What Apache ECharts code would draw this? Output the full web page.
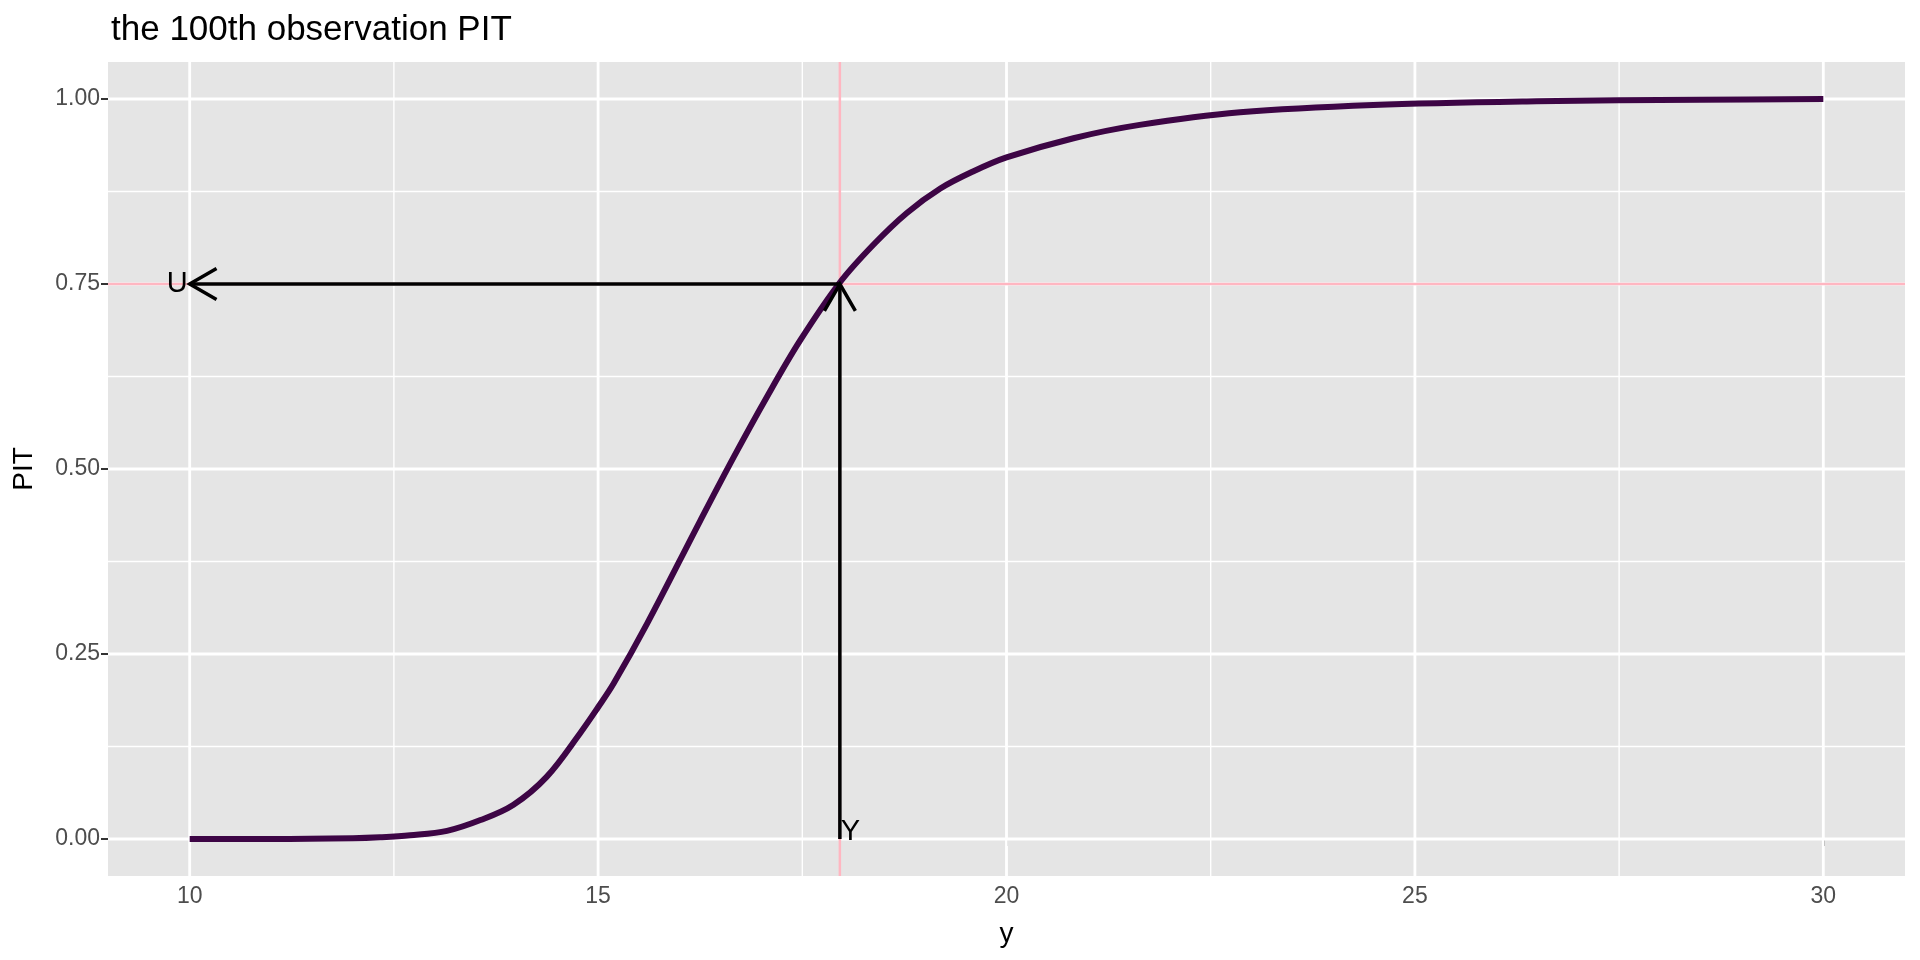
<!DOCTYPE html>
<html><head><meta charset="utf-8">
<script src="https://cdn.jsdelivr.net/npm/echarts@6/dist/echarts.min.js"></script>
<style>html,body{margin:0;padding:0;background:#fff}#c{width:1920px;height:960px}</style>
</head><body><div id="c"></div>
<script>
// ---- data ----
const yValues = [10, 11, 12, 12.33, 12.7, 13.15, 13.56, 13.96, 14.37, 14.78, 15.0, 15.19, 15.6, 16.25, 16.66, 17.07, 17.47, 17.96, 18.37, 18.78, 19.19, 19.59, 20.0, 20.82, 21.63, 22.86, 24.49, 26.49, 28.49, 30];
const pitValues = [0.000, 0.000, 0.001, 0.0023, 0.005, 0.011, 0.0256, 0.046, 0.084, 0.143, 0.178, 0.210, 0.291, 0.430, 0.516, 0.598, 0.673, 0.752, 0.803, 0.846, 0.879, 0.902, 0.921, 0.947, 0.965, 0.982, 0.992, 0.997, 0.999, 1.000];
const xTicks = [10, 15, 20, 25, 30];
const xMinor = [12.5, 17.5, 22.5, 27.5];
const yTicks = [0, 0.25, 0.5, 0.75, 1];
const yMinor = [0.125, 0.375, 0.625, 0.875];
const obsY = 17.96;
const obsPIT = 0.75;
const arrowFrom = [[obsY, 0], [obsY, obsPIT]];
const arrowTo = [[obsY, obsPIT], [10, obsPIT]];
const labelText = ['U', 'Y'];
const labelPos = [[10, obsPIT], [obsY, 0]];

const chart = echarts.init(document.getElementById('c'));
const FONT = '"Liberation Sans", Arial, Helvetica, sans-serif';

function lineSeries(name, data, styleFn, z) {
  return {
    type: 'custom', name, z, silent: true,
    data,
    renderItem(params, api) {
      const cs = params.coordSys;
      const kind = api.value(1);
      const v = api.value(0);
      const st = styleFn(api.value(2));
      if (kind === 0) {
        const x = api.coord([v, 0])[0];
        return {type: 'line', shape: {x1: x, y1: cs.y, x2: x, y2: cs.y + cs.height}, style: st};
      } else {
        const y = api.coord([10, v])[1];
        return {type: 'line', shape: {x1: cs.x, y1: y, x2: cs.x + cs.width, y2: y}, style: st};
      }
    },
    encode: {x: 0}
  };
}

const gridData = [
  ...xMinor.map(v => [v, 0, 1]), ...yMinor.map(v => [v, 1, 1]),
  ...xTicks.map(v => [v, 0, 0]), ...yTicks.map(v => [v, 1, 0])
];
const refData = [[obsY, 0, 0], [obsPIT, 1, 0]];

const option = {
  animation: false,
  backgroundColor: '#ffffff',
  title: {
    text: 'the 100th observation PIT', left: 106, top: 8,
    textStyle: {fontFamily: FONT, fontSize: 35, fontWeight: 'normal', color: '#000'}
  },
  grid: {left: 108, right: 15, top: 62, bottom: 84, show: true, backgroundColor: '#E5E5E5', borderWidth: 0},
  xAxis: {
    type: 'value', min: 9, max: 31,
    name: 'y', nameLocation: 'middle', nameGap: 44,
    nameTextStyle: {fontFamily: FONT, fontSize: 28, color: '#000'},
    axisLine: {show: false},
    axisTick: {show: true, customValues: xTicks, length: 7, lineStyle: {color: '#333333', width: 2}},
    axisLabel: {customValues: xTicks, fontFamily: FONT, fontSize: 23, color: '#4D4D4D', margin: 9},
    splitLine: {show: false}
  },
  yAxis: {
    type: 'value', min: -0.05, max: 1.05,
    name: 'PIT', nameLocation: 'middle', nameGap: 70, nameRotate: 90,
    nameTextStyle: {fontFamily: FONT, fontSize: 28, color: '#000'},
    axisLine: {show: false},
    axisTick: {show: true, customValues: yTicks, length: 7, lineStyle: {color: '#333333', width: 2}},
    axisLabel: {customValues: yTicks, fontFamily: FONT, fontSize: 23, color: '#4D4D4D', margin: 8,
      formatter: v => v.toFixed(2)},
    splitLine: {show: false}
  },
  series: [
    lineSeries('grid', gridData, w => ({stroke: '#FFFFFF', lineWidth: w === 1 ? 1.4 : 2.8}), 1),
    lineSeries('ref', refData, () => ({stroke: '#FFB6C1', lineWidth: 2.5}), 2),
    {
      type: 'line', name: 'PIT', z: 3, silent: true,
      data: yValues.map((x, i) => [x, pitValues[i]]),
      showSymbol: false, smooth: 0.35,
      lineStyle: {color: '#3D0545', width: 6, cap: 'butt'}
    },
    {
      type: 'custom', name: 'arrows', z: 4, silent: true,
      data: arrowFrom.map((f, i) => [f[0], f[1], arrowTo[i][0], arrowTo[i][1]]),
      encode: {x: [0, 2], y: [1, 3]},
      renderItem(params, api) {
        const p1 = api.coord([api.value(0), api.value(1)]);
        const p2 = api.coord([api.value(2), api.value(3)]);
        const a = Math.atan2(p2[1] - p1[1], p2[0] - p1[0]);
        const L = 31, t = Math.PI / 6;
        const h1 = [p2[0] - L * Math.cos(a - t), p2[1] - L * Math.sin(a - t)];
        const h2 = [p2[0] - L * Math.cos(a + t), p2[1] - L * Math.sin(a + t)];
        const st = {stroke: '#000', lineWidth: 3.5, fill: null};
        return {type: 'group', children: [
          {type: 'polyline', shape: {points: [p1, p2]}, style: st},
          {type: 'polyline', shape: {points: [h1, p2, h2]}, style: Object.assign({lineJoin: 'miter'}, st)}
        ]};
      }
    },
    {
      type: 'custom', name: 'labels', z: 5, silent: true,
      data: labelPos.map((p, i) => [p[0], p[1], i]),
      encode: {x: 0, y: 1},
      renderItem(params, api) {
        const i = api.value(2);
        const p = api.coord([api.value(0), api.value(1)]);
        const isU = i === 0;
        return {
          type: 'text',
          x: isU ? p[0] - 2 : p[0] + 1,
          y: isU ? p[1] : p[1] - 7,
          style: {
            text: labelText[i], fill: '#000', fontFamily: FONT, fontSize: 29,
            align: isU ? 'right' : 'left', verticalAlign: 'middle'
          }
        };
      }
    }
  ]
};
chart.setOption(option);
</script>
</body></html>
